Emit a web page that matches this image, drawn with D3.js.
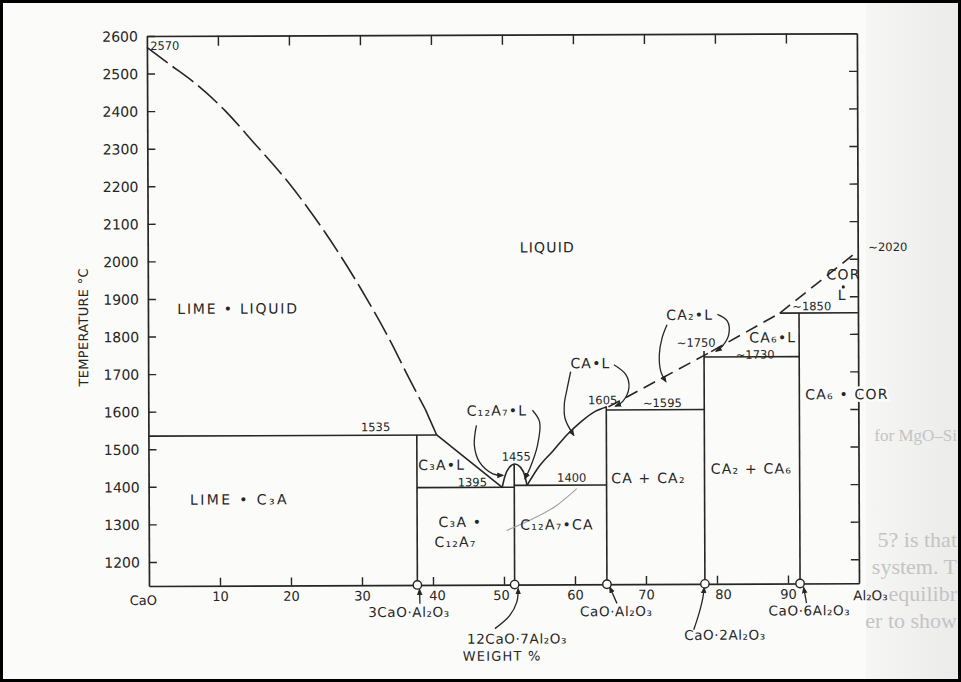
<!DOCTYPE html>
<html><head><meta charset="utf-8">
<script src="https://cdn.jsdelivr.net/npm/d3@7"></script>
<style>body{margin:0;background:#fff}svg{display:block}</style>
</head><body>
<svg id="c" width="961" height="682"></svg>
<script>
// ---------------- data (wt% Al2O3, temperature °C) ----------------
const xTickValues = [10, 20, 30, 40, 50, 60, 70, 80, 90];
const yTickValues = [1200, 1300, 1400, 1500, 1600, 1700, 1800, 1900, 2000, 2100, 2200, 2300, 2400, 2500, 2600];
const compoundNames = ["3CaO·Al_2O_3", "12CaO·7Al_2O_3", "CaO·Al_2O_3", "CaO·2Al_2O_3", "CaO·6Al_2O_3"];
const compoundWt = [37.8, 51.5, 64.5, 78.3, 91.7];
const compoundTopT = [1535, 1456, 1610, 1756, 1856];
const isothermT = [1535, 1395, 1400, 1600, 1740, 1856];
const isothermFrom = [0, 37.8, 51.5, 64.5, 78.3, 89.0];
const isothermTo = [40.6, 51.5, 64.5, 78.3, 91.7, 100];
const liquidusLimeDashed = [[0, 2570], [3, 2527], [7, 2470], [11, 2400], [15, 2315], [20, 2205], [25, 2075], [30, 1925], [34, 1790], [36.8, 1684], [39, 1604]];
const liquidusLimeSolid = [[39, 1604], [40.6, 1535]];
const liquidusC3A = [[40.6, 1535], [49.8, 1395]];
const liquidusC12A7 = [[49.8, 1395], [50.2, 1425], [50.8, 1448], [51.6, 1457], [52.4, 1448], [53.0, 1425], [53.3, 1400]];
const liquidusCA = [[53.3, 1400], [55, 1450], [57, 1492], [59, 1535], [61, 1570], [63, 1597], [64.5, 1608]];
const liquidusCA2 = [[64.8, 1608], [79.3, 1754]];
const liquidusCA6 = [[79.3, 1754], [89.0, 1856]];
const liquidusCOR = [[89.0, 1856], [100, 2020]];
const pointLabels = ["2570", "1535", "1395", "1455", "1400", "1605", "~1595", "~1750", "~1730", "~1850", "~2020"];
const pointLabelWt = [0.45, 32, 45.6, 51.8, 59.6, 64, 72.4, 77.2, 85.5, 93.5, 101.5];
const pointLabelT = [2563, 1546, 1398, 1466, 1409, 1615, 1607, 1767, 1735, 1863, 2020];
const phaseNames = ["LIQUID", "LIME • LIQUID", "LIME • C_3A", "C_3A•L", "C_3A •", "C_12A_7", "C_12A_7•CA", "C_12A_7•L", "CA•L", "CA_2•L", "CA_6•L", "CA + CA_2", "CA_2 + CA_6", "CA_6 • COR", "COR", "L"];
const phaseWt = [56.3, 12.7, 12.8, 41.3, 43.9, 43.2, 57.5, 49.1, 62.3, 76.3, 88.0, 70.4, 84.9, 98.4, 98.0, 97.8];
const phaseT = [2020, 1860, 1352, 1442, 1290, 1237, 1282, 1586, 1711, 1839, 1778, 1405, 1429, 1626, 1945, 1890];
const corDotWt = 97.95, corDotT = 1925;
// leader arrows (wt%, °C)
const leaderC12A7L_a = [[46.2, 1560], [45.9, 1507], [46.6, 1463], [48.5, 1431], [49.9, 1427]];
const leaderC12A7L_b = [[54.1, 1600], [55.1, 1569], [54.8, 1507], [53.7, 1445], [53.0, 1418]];
const leaderCAL_a = [[59.5, 1702], [59.0, 1657], [58.6, 1617], [58.7, 1577], [59.9, 1533]];
const leaderCAL_b = [[65.6, 1720], [67.3, 1693], [67.7, 1658], [66.8, 1622], [65.8, 1610]];
const leaderCA2L_a = [[73.1, 1826], [72.4, 1791], [72.0, 1746], [72.2, 1702], [72.9, 1675]];
const leaderCA2L_b = [[80.2, 1853], [81.6, 1835], [81.8, 1800], [80.9, 1769], [80.0, 1755]];
const leaderC12A7CA = [[60.3, 1391], [57.2, 1343], [54.1, 1311], [50.4, 1280]];
const compoundLeaders = [
  [[38.1, 1124], [38.15, 1086]],
  [[52.0, 1125], [51.8, 1090], [50.8, 1054], [48.7, 1019]],
  [[64.9, 1128], [65.9, 1085]],
  [[78.2, 1126], [78.0, 1099], [77.4, 1054], [76.7, 1014]],
  [[92.2, 1125], [92.4, 1105], [92.6, 1084]]
];
const compoundLabelWt = [36.6, 51.8, 65.8, 81.1, 93.0];
const compoundLabelT = [1051, 979, 1051, 987, 1051];
const ghostLines = ["5?  is  that", "system. T", "equilibr", "er to show"];

// ---------------- drawing ----------------
const PAPER = "#fbfbfa", INK = "#262626";
const svg = d3.select("#c");
const defs = svg.append("defs");
svg.append("rect").attr("width", 961).attr("height", 682).attr("fill", PAPER);
const grad = defs.append("linearGradient").attr("id", "shade").attr("x1", 0).attr("x2", 1);
grad.append("stop").attr("offset", 0).attr("stop-color", "#f6f6f5");
grad.append("stop").attr("offset", 1).attr("stop-color", "#ebebea");
svg.append("rect").attr("x", 866).attr("y", 0).attr("width", 95).attr("height", 682).attr("fill", "url(#shade)");

// show-through text from the facing page, right margin
const ghost = svg.append("g").attr("font-family", "'Liberation Serif', serif").attr("fill", "#c4c4c4");
ghost.append("text").attr("x", 957).attr("y", 441).attr("text-anchor", "end").attr("font-size", 17).text("for MgO–Si");
ghostLines.forEach((s, i) => {
  ghost.append("text").attr("x", 957).attr("y", 547 + i * 27).attr("text-anchor", "end").attr("font-size", 22).text(s);
});

defs.append("marker").attr("id", "arr").attr("viewBox", "0 0 10 10").attr("refX", 8).attr("refY", 5)
  .attr("markerWidth", 7).attr("markerHeight", 7).attr("markerUnits", "userSpaceOnUse").attr("orient", "auto-start-reverse")
  .append("path").attr("d", "M0,1L10,5L0,9Z").attr("fill", "#262626");

const x = d3.scaleLinear().domain([0, 100]).range([149, 859]);
const y = d3.scaleLinear().domain([1136, 2600]).range([586, 36]);
const g = svg.append("g").attr("transform", "rotate(-0.22,149,586)");
const FONT = "'DejaVu Sans', sans-serif";
const SUB = "₀₁₂₃₄₅₆₇₈₉";
const sub = s => s.replace(/_(\d+)/g, (m, d) => d.split("").map(c => SUB[+c]).join(""));

function label(parent, str, px, py, size, anchor) {
  return parent.append("text").attr("x", px).attr("y", py).attr("font-size", size)
    .attr("text-anchor", anchor || "middle").attr("font-family", FONT).attr("fill", INK).text(sub(str));
}

// axes
function styleAxis(sel) {
  sel.select(".domain").attr("stroke", INK).attr("stroke-width", 1.7);
  sel.selectAll(".tick line").attr("stroke", INK).attr("stroke-width", 1.4);
  sel.selectAll(".tick text").attr("font-family", FONT).attr("fill", INK);
}
const axB = g.append("g").attr("transform", `translate(0,${y(1136)})`)
  .call(d3.axisBottom(x).tickValues(xTickValues).tickSizeInner(-8).tickSizeOuter(0).tickPadding(6));
styleAxis(axB);
axB.selectAll(".tick text").attr("font-size", 13).attr("dx", d => d === 40 ? 4 : d === 50 ? -3 : d === 80 ? 6 : 0);
const axT = g.append("g").attr("transform", `translate(0,${y(2600)})`)
  .call(d3.axisTop(x).tickValues(xTickValues).tickSizeInner(-10).tickSizeOuter(0).tickFormat(""));
styleAxis(axT);
const axL = g.append("g").attr("transform", `translate(${x(0)},0)`)
  .call(d3.axisLeft(y).tickValues(yTickValues).tickSizeInner(-8).tickSizeOuter(0).tickPadding(9).tickFormat(d3.format("d")));
styleAxis(axL);
axL.selectAll(".tick text").attr("font-size", 14).attr("dy", "0.36em");
const axR = g.append("g").attr("transform", `translate(${x(100)},0)`)
  .call(d3.axisRight(y).tickValues(yTickValues.filter(v => v < 2600)).tickSizeInner(-8).tickSizeOuter(0).tickFormat(""));
styleAxis(axR);

label(g, "CaO", x(-0.8), y(1136) + 19, 13);
label(g, "Al_2O_3", x(101.6), y(1136) + 17, 13.5);
g.append("text").attr("x", 0).attr("y", 0).attr("transform", "translate(89,327) rotate(-90)")
  .attr("text-anchor", "middle").attr("font-family", FONT).attr("font-size", 13).attr("fill", INK).attr("letter-spacing", 0.3)
  .text("TEMPERATURE °C");
g.append("text").attr("x", x(49.7)).attr("y", y(1136) + 76).attr("text-anchor", "middle").attr("font-family", FONT)
  .attr("font-size", 13).attr("letter-spacing", 1.2).attr("fill", INK).text("WEIGHT %");

// phase boundaries
const lines = g.append("g").attr("stroke", INK).attr("stroke-width", 1.6).attr("fill", "none");
compoundWt.forEach((w, i) => {
  lines.append("line").attr("x1", x(w)).attr("x2", x(w)).attr("y1", y(1136)).attr("y2", y(compoundTopT[i]));
});
isothermT.forEach((t, i) => {
  lines.append("line").attr("x1", x(isothermFrom[i])).attr("x2", x(isothermTo[i])).attr("y1", y(t)).attr("y2", y(t));
});
const lineGen = d3.line().x(d => x(d[0])).y(d => y(d[1]));
lines.append("path").attr("d", lineGen.curve(d3.curveMonotoneX)(liquidusLimeDashed)).attr("stroke-dasharray", "26,6");
lines.append("path").attr("d", lineGen.curve(d3.curveLinear)(liquidusLimeSolid));
lines.append("path").attr("d", lineGen.curve(d3.curveLinear)(liquidusC3A));
lines.append("path").attr("d", lineGen.curve(d3.curveMonotoneX)(liquidusC12A7));
lines.append("path").attr("d", lineGen.curve(d3.curveMonotoneX)(liquidusCA));
[liquidusCA2, liquidusCA6, liquidusCOR].forEach(a => {
  lines.append("path").attr("d", lineGen.curve(d3.curveLinear)(a)).attr("stroke-dasharray", "13,7");
});

// leaders
const lead = g.append("g").attr("stroke", INK).attr("stroke-width", 1.3).attr("fill", "none");
const curveGen = d3.line().x(d => x(d[0])).y(d => y(d[1])).curve(d3.curveCatmullRom.alpha(0.5));
[leaderC12A7L_a, leaderC12A7L_b, leaderCAL_a, leaderCAL_b, leaderCA2L_a, leaderCA2L_b].forEach(a => {
  lead.append("path").attr("d", curveGen(a)).attr("marker-end", "url(#arr)");
});
lead.append("path").attr("d", curveGen(leaderC12A7CA)).attr("stroke", "#a0a0a0").attr("stroke-width", 1.1);
compoundLeaders.forEach(a => {
  lead.append("path").attr("d", curveGen(a)).attr("marker-start", "url(#arr)");
});

// compound circles
g.append("g").selectAll("circle").data(compoundWt).join("circle")
  .attr("cx", d => x(d)).attr("cy", y(1136)).attr("r", 4.2)
  .attr("fill", PAPER).attr("stroke", INK).attr("stroke-width", 1.4);

// labels
const lab = g.append("g");
compoundNames.forEach((n, i) => {
  label(lab, n, x(compoundLabelWt[i]), y(compoundLabelT[i]), 13.5).attr("letter-spacing", 0.6);
});
phaseNames.forEach((n, i) => {
  const ls = n.startsWith("LIME") ? (n.includes("LIQ") ? 1.8 : 2.4) : 1.2;
  const t = label(lab, n, x(phaseWt[i]), y(phaseT[i]), 14).attr("letter-spacing", ls);
  if (n === "CA_6 • COR") t.attr("stroke", PAPER).attr("stroke-width", 5).attr("paint-order", "stroke");
});
lab.append("circle").attr("cx", x(corDotWt)).attr("cy", y(corDotT)).attr("r", 1.6).attr("fill", INK);
pointLabels.forEach((n, i) => {
  label(lab, n, x(pointLabelWt[i]), y(pointLabelT[i]), 11.5, (n === "~2020" || n === "2570") ? "start" : "middle");
});

// outer frame of the scan
svg.append("rect").attr("x", 1.5).attr("y", 1.5).attr("width", 958).attr("height", 679)
  .attr("fill", "none").attr("stroke", "#000").attr("stroke-width", 3);
</script>
</body></html>
